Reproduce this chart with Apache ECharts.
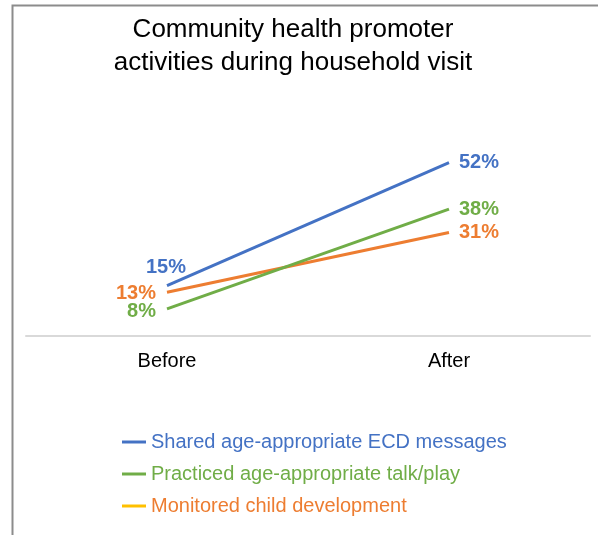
<!DOCTYPE html>
<html>
<head>
<meta charset="utf-8">
<script src="https://cdn.jsdelivr.net/npm/echarts@6/dist/echarts.min.js"></script>
<style>html,body{margin:0;padding:0;background:#fff;}#c{width:598px;height:535px;}</style>
</head>
<body>
<div id="c"></div>
<script>
const categories = ["Before", "After"];
const seriesNames = ["Shared age-appropriate ECD messages", "Practiced age-appropriate talk/play", "Monitored child development"];
const sharedECD = [15, 52];
const practicedTalk = [8, 38];
const monitoredDev = [13, 31];
const titleText = "Community health promoter\nactivities during household visit";

const colors = ["#4472C4", "#70AD47", "#ED7D31"];
const legendIconColors = ["#4472C4", "#70AD47", "#FFC000"];
const values = [sharedECD, practicedTalk, monitoredDev];
const leftLabel = [
  {position: "top", distance: 8, offset: [-1, 0]},
  {position: "left", distance: 11, offset: [0, 3]},
  {position: "left", distance: 11, offset: [0, 1]}
];

const chart = echarts.init(document.getElementById("c"), null, {renderer: "canvas"});
const series = values.map((v, i) => ({
  name: seriesNames[i],
  type: "line",
  data: v.map((y, j) => ({
    value: y,
    label: Object.assign({show: true}, j === 0 ? leftLabel[i] : {position: "right", distance: 10})
  })),
  symbol: "circle",
  symbolSize: 0,
  showSymbol: true,
  lineStyle: {color: colors[i], width: 3},
  itemStyle: {color: colors[i]},
  label: {
    show: true,
    formatter: p => p.value + "%",
    color: colors[i],
    fontFamily: "Liberation Sans",
    fontWeight: "bold",
    fontSize: 20
  },
  emphasis: {disabled: true},
  z: 3 - i
}));

chart.setOption({
  animation: false,
  backgroundColor: "#fff",
  title: {
    text: titleText,
    left: 288,
    textAlign: "center",
    top: 8,
    textStyle: {fontFamily: "Liberation Sans", fontWeight: "normal", fontSize: 26, lineHeight: 33, color: "#000"}
  },
  grid: {left: 26, top: 136, width: 564, height: 199.5, containLabel: false},
  xAxis: {
    type: "category",
    data: categories,
    boundaryGap: true,
    axisLine: {show: true, lineStyle: {color: "#d9d9d9", width: 2}},
    axisTick: {show: false},
    axisLabel: {color: "#000", fontFamily: "Liberation Sans", fontSize: 20, margin: 16}
  },
  yAxis: {
    type: "value",
    min: 0,
    max: 60,
    show: false,
    splitLine: {show: false}
  },
  legend: {
    orient: "vertical",
    left: 122,
    top: 432,
    padding: 0,
    itemWidth: 24,
    itemHeight: 3,
    itemGap: 12,
    icon: "rect",
    data: seriesNames.map((n, i) => ({
      name: n,
      itemStyle: {color: legendIconColors[i]},
      textStyle: {color: colors[i]}
    })),
    textStyle: {fontFamily: "Liberation Sans", fontSize: 20}
  },
  graphic: [{
    type: "rect",
    shape: {x: 12.5, y: 5.5, width: 700, height: 700},
    style: {fill: "none", stroke: "#8c8c8c", lineWidth: 2},
    silent: true
  }],
  series: series
});
</script>
</body>
</html>
